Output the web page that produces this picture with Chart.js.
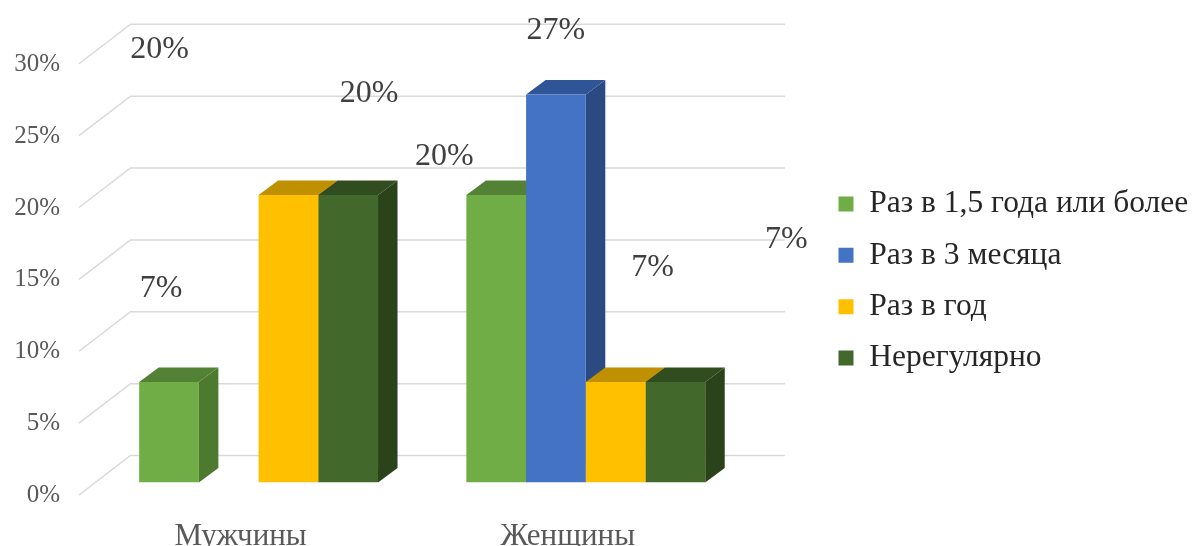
<!DOCTYPE html>
<html>
<head>
<meta charset="utf-8">
<style>
    html, body { margin: 0; padding: 0; background: #fff; }
    canvas { display: block; }
</style>
<script src="https://cdn.jsdelivr.net/npm/chart.js@4"></script>
</head>
<body>
<canvas id="myChart" width="1194" height="546"></canvas>
<script>
var categories = ['Мужчины', 'Женщины'];
var seriesNames = ['Раз в 1,5 года или более', 'Раз в 3 месяца', 'Раз в год', 'Нерегулярно'];
var onceIn15Years = [7, 20];
var onceIn3Months = [null, 27];
var onceAYear = [20, 7];
var irregular = [20, 7];

var frontColors = ['#70ad47', '#4472c4', '#ffc000', '#43682b'];
var topColors = ['#538135', '#2f5597', '#bf9000', '#314d20'];
var sideColors = ['#4e7a30', '#2c4a82', '#a67c00', '#2b431b'];

// the labels were dragged around by hand in the original, offset from the bar top
var labelShiftX = [[-8, -52], [0, 0], [-129, 37], [21, 111]];
var labelShiftY = [[-93, -38], [0, -64], [-145, -114], [-101, -142]];

var depthX = 19.5, depthY = -14.5;      // bar depth
var floorFront = { x: -16, y: 12.5 };   // front edge of the floor, from the bar plane
var floorBack = { x: 35.5, y: -27 };    // back wall, from the bar plane

const gridAndDepth = {
    id: 'gridAndDepth',
    beforeDatasetsDraw(chart) {
        const { ctx, chartArea, scales } = chart;
        ctx.save();
        ctx.strokeStyle = '#d9d9d9';
        ctx.lineWidth = 1.5;
        scales.y.ticks.forEach(function (tick) {
            var y = scales.y.getPixelForValue(tick.value);
            ctx.beginPath();
            ctx.moveTo(chartArea.left + floorFront.x, y + floorFront.y);
            ctx.lineTo(chartArea.left + floorBack.x, y + floorBack.y);
            ctx.lineTo(chartArea.right + floorBack.x, y + floorBack.y);
            ctx.stroke();
        });
        // side and top of each bar, the fronts are the chart's own bars
        chart.data.datasets.forEach(function (dataset, i) {
            chart.getDatasetMeta(i).data.forEach(function (bar, j) {
                if (dataset.data[j] == null) return;
                var right = bar.x + bar.width / 2, left = bar.x - bar.width / 2;
                ctx.fillStyle = sideColors[i];
                ctx.beginPath();
                ctx.moveTo(right, bar.base);
                ctx.lineTo(right + depthX, bar.base + depthY);
                ctx.lineTo(right + depthX, bar.y + depthY);
                ctx.lineTo(right, bar.y);
                ctx.closePath();
                ctx.fill();
                ctx.fillStyle = topColors[i];
                ctx.beginPath();
                ctx.moveTo(left, bar.y);
                ctx.lineTo(left + depthX, bar.y + depthY);
                ctx.lineTo(right + depthX, bar.y + depthY);
                ctx.lineTo(right, bar.y);
                ctx.closePath();
                ctx.fill();
            });
        });
        ctx.restore();
    },
    afterDatasetsDraw(chart) {
        const { ctx } = chart;
        ctx.save();
        ctx.font = '32px "Liberation Serif"';
        ctx.fillStyle = '#404040';
        ctx.textAlign = 'center';
        ctx.textBaseline = 'middle';
        chart.data.datasets.forEach(function (dataset, i) {
            chart.getDatasetMeta(i).data.forEach(function (bar, j) {
                if (dataset.data[j] == null) return;
                ctx.fillText(dataset.data[j] + '%', bar.x + labelShiftX[i][j], bar.y + labelShiftY[i][j]);
            });
        });
        ctx.restore();
    },
    afterLayout(chart) {
        // legend sits right of the plot, its box is also the clip area
        chart.legend.left = 818.7;
        chart.legend.top = 168.5;
        chart.legend.right = 1194;
        chart.legend.bottom = 546;
    }
};

const ctx = document.getElementById('myChart');
new Chart(ctx, {
    type: 'bar',
    data: {
        labels: categories,
        datasets: [onceIn15Years, onceIn3Months, onceAYear, irregular].map(function (values, i) {
            return {
                label: seriesNames[i],
                data: values,
                backgroundColor: frontColors[i],
                categoryPercentage: 0.73,
                barPercentage: 1
            };
        })
    },
    options: {
        responsive: false,
        animation: false,
        layout: { padding: { top: 51.25, right: 444.6 } },
        scales: {
            x: {
                grid: { display: false },
                border: { display: false },
                ticks: {
                    font: { family: 'Liberation Serif', size: 31 },
                    color: '#595959',
                    padding: 28,
                    labelOffset: -18,
                    maxRotation: 0
                },
                afterFit(scale) { scale.height = 63.5; }
            },
            y: {
                min: 0,
                max: 30,
                grid: { display: false, drawTicks: false },
                border: { display: false },
                ticks: {
                    stepSize: 5,
                    font: { family: 'Liberation Serif', size: 25 },
                    color: '#595959',
                    padding: 35,
                    labelOffset: 13,
                    callback: function (value) { return value + '%'; }
                },
                afterFit(scale) { scale.width = 95; }
            }
        },
        plugins: {
            tooltip: { enabled: false },
            legend: {
                position: 'chartArea',
                align: 'start',
                labels: {
                    boxWidth: 15,
                    boxHeight: 15,
                    padding: 19.8,
                    color: '#262626',
                    font: { family: 'Liberation Serif', size: 31.5 }
                }
            }
        }
    },
    plugins: [gridAndDepth]
});
</script>
</body>
</html>
